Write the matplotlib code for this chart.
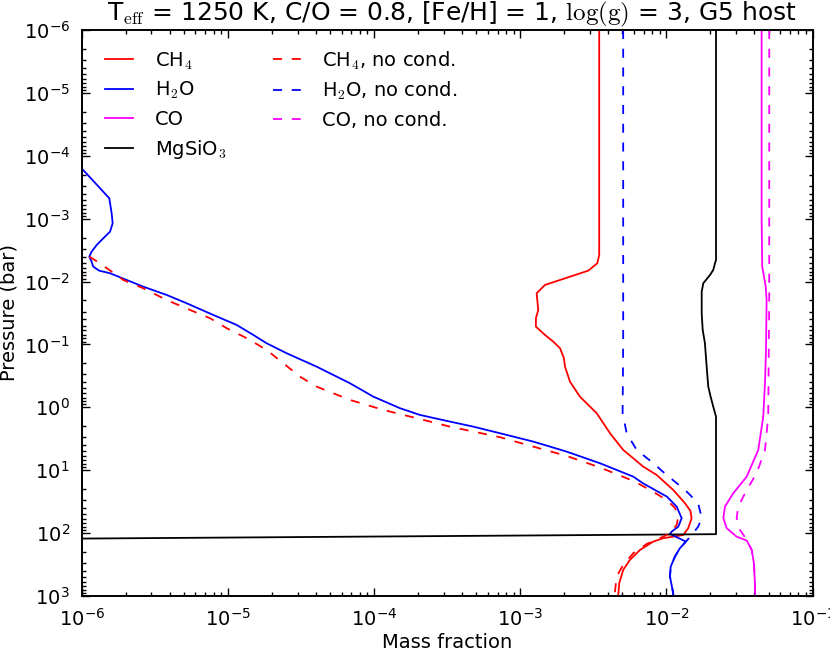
import numpy as np
import matplotlib
matplotlib.use("Agg")
import matplotlib.pyplot as plt

plt.rcParams['font.family'] = ['DejaVu Sans']
plt.rcParams['mathtext.fontset'] = 'cm'
plt.rcParams['lines.scale_dashes'] = False

# values, as log10(mass fraction) and log10(pressure / bar)
h2o_logx = [-6.02, -6.0, -5.811, -5.795, -5.788, -5.806, -5.852, -5.897, -5.932, -5.948,
            -5.932, -5.921, -5.880, -5.806, -5.692, -5.579, -5.419, -5.282, -5.100, -4.940,
            -4.826, -4.735, -4.598, -4.393, -4.165, -4.005, -3.823, -3.686, -3.481, -3.321,
            -3.139, -2.911, -2.683, -2.455, -2.227, -2.161, -1.997, -1.930, -1.896, -1.919,
            -1.964, -1.976, -1.867, -1.908, -1.942, -1.971, -1.976, -1.954, -1.953]
h2o_logp = [-3.84, -3.80, -3.324, -3.086, -2.927, -2.793, -2.688, -2.582, -2.475, -2.396,
            -2.316, -2.237, -2.173, -2.132, -2.025, -1.919, -1.787, -1.655, -1.469, -1.310,
            -1.151, -1.019, -0.860, -0.647, -0.383, -0.170, 0.014, 0.121, 0.227, 0.307,
            0.412, 0.545, 0.704, 0.889, 1.102, 1.207, 1.420, 1.579, 1.763, 1.897,
            1.976, 2.013, 2.135, 2.240, 2.374, 2.533, 2.692, 2.955, 3.0]

h2o_nc_logx = [-2.296, -2.296, -2.300, -2.272, -2.204, -2.090, -1.999, -1.873, -1.783, -1.759,
               -1.783, -1.817, -1.867, -1.908, -1.942, -1.971, -1.976, -1.954, -1.953]
h2o_nc_logp = [-6.0, -1.0, 0.094, 0.412, 0.677, 0.889, 1.075, 1.313, 1.525, 1.763,
               1.897, 2.002, 2.135, 2.240, 2.374, 2.533, 2.692, 2.955, 3.0]

ch4_logx = [-2.460, -2.460, -2.473, -2.535, -2.831, -2.888, -2.877, -2.893, -2.893, -2.831,
            -2.774, -2.728, -2.701, -2.694, -2.660, -2.592, -2.477, -2.386, -2.296, -2.159,
            -2.067, -1.954, -1.873, -1.836, -1.828, -1.851, -1.885, -1.954, -2.022, -2.090,
            -2.181, -2.250, -2.296, -2.323, -2.330, -2.331]
ch4_logp = [-6.0, -2.423, -2.291, -2.173, -1.946, -1.814, -1.548, -1.417, -1.283, -1.151,
            -1.044, -0.940, -0.781, -0.647, -0.409, -0.170, 0.094, 0.412, 0.677, 0.943,
            1.075, 1.313, 1.525, 1.647, 1.763, 1.922, 2.029, 2.056, 2.081, 2.135,
            2.267, 2.426, 2.585, 2.797, 2.983, 3.03]

ch4_nc_logx = [-5.948, -5.875, -5.715, -5.579, -5.419, -5.259, -5.122, -5.008, -4.871,
               -4.735, -4.621, -4.507, -4.393, -4.165, -3.937, -3.709, -3.481, -3.139, -2.911,
               -2.683, -2.455, -2.227, -2.113, -1.999, -1.942, -1.919, -1.930, -1.976, -2.044,
               -2.135, -2.227, -2.296, -2.341, -2.352, -2.353]
ch4_nc_logp = [-2.396, -2.291, -2.025, -1.893, -1.707, -1.548, -1.417, -1.258, -1.099,
               -0.913, -0.701, -0.488, -0.329, -0.118, 0.041, 0.173, 0.307, 0.475, 0.625,
               0.773, 0.956, 1.170, 1.313, 1.472, 1.599, 1.738, 1.870, 2.002, 2.081,
               2.172, 2.320, 2.506, 2.692, 2.930, 3.03]

co_logx = [-1.349, -1.349, -1.345, -1.321, -1.315, -1.319, -1.326, -1.338, -1.372, -1.451,
           -1.543, -1.600, -1.611, -1.588, -1.520, -1.451, -1.417, -1.402, -1.395, -1.393, -1.393]
co_logp = [-6.0, -3.0, -2.237, -1.919, -1.707, -0.913, -0.383, 0.148, 0.677, 1.102,
           1.366, 1.579, 1.763, 1.922, 2.056, 2.119, 2.267, 2.479, 2.797, 2.983, 3.03]

co_nc_logx = [-1.297, -1.297, -1.297, -1.301, -1.304, -1.326, -1.383, -1.451, -1.509,
              -1.520, -1.497, -1.451, -1.417, -1.402, -1.395, -1.393, -1.393]
co_nc_logp = [-6.0, -3.3, -1.707, -0.647, 0.148, 0.677, 1.048, 1.313, 1.579,
              1.763, 1.949, 2.108, 2.267, 2.479, 2.797, 2.983, 3.03]

mgsio3_logx = [-1.661, -1.661, -1.668, -1.680, -1.702, -1.748, -1.759, -1.759, -1.752,
               -1.737, -1.725, -1.714, -1.698, -1.680, -1.661, -1.661, -6.0, -6.5]
mgsio3_logp = [-6.0, -2.343, -2.291, -2.184, -2.105, -1.973, -1.839, -1.496, -1.231,
               -1.019, -0.647, -0.329, -0.170, -0.011, 0.148, 2.017, 2.087, 2.095]


def dex(a):
    return 10.0 ** np.asarray(a)


fig = plt.figure(figsize=(8.3, 6.52), dpi=100)
ax = fig.add_axes([0.0984, 0.0859, 0.8807, 0.8681])

lw = 1.3
dash = (6.5, 7.0)
magenta = '#ff00ff'
ax.plot(dex(ch4_logx), dex(ch4_logp), color='r', lw=lw, label=r'CH$_4$')
ax.plot(dex(h2o_logx), dex(h2o_logp), color='b', lw=lw, label=r'H$_2$O')
ax.plot(dex(co_logx), dex(co_logp), color=magenta, lw=lw, label='CO')
ax.plot(dex(mgsio3_logx), dex(mgsio3_logp), color='k', lw=lw, label=r'MgSiO$_3$')
ax.plot(dex(ch4_nc_logx), dex(ch4_nc_logp), color='r', lw=lw, ls='--', dashes=dash,
        label=r'CH$_4$, no cond.')
ax.plot(dex(h2o_nc_logx), dex(h2o_nc_logp), color='b', lw=lw, ls='--', dashes=dash,
        label=r'H$_2$O, no cond.')
ax.plot(dex(co_nc_logx), dex(co_nc_logp), color=magenta, lw=lw, ls='--', dashes=dash,
        label='CO, no cond.')

ax.set_xscale('log')
ax.set_yscale('log')
ax.set_xlim(1e-6, 1e-1)
ax.set_ylim(1e3, 1e-6)

ax.tick_params(which='both', direction='in', top=True, right=True, labelsize=14)
ax.tick_params(which='major', length=5.6, width=1, pad=8.5)
ax.tick_params(which='minor', length=2.8, width=1)
for s in ax.spines.values():
    s.set_linewidth(1.4)

ax.set_xlabel('Mass fraction', fontsize=14, labelpad=2.5)
ax.set_ylabel('Pressure (bar)', fontsize=14, labelpad=4)
# title placed by its baseline so the tall math glyphs do not push it off the top
ax.text(0.507, 1.0168,
        r'T$_{\rm eff}$ = 1250 K, C/O = 0.8, [Fe/H] = 1, $\log(\rm g)$ = 3, G5 host',
        transform=ax.transAxes, ha='center', va='baseline', fontsize=18)

ax.legend(loc='upper left', bbox_to_anchor=(0.032, 0.966), ncol=2, frameon=False,
          fontsize=14, handlelength=1.45, handletextpad=1.1, columnspacing=2.4,
          labelspacing=0.44, borderaxespad=0, borderpad=0)

fig.savefig('out.png', dpi=100)
